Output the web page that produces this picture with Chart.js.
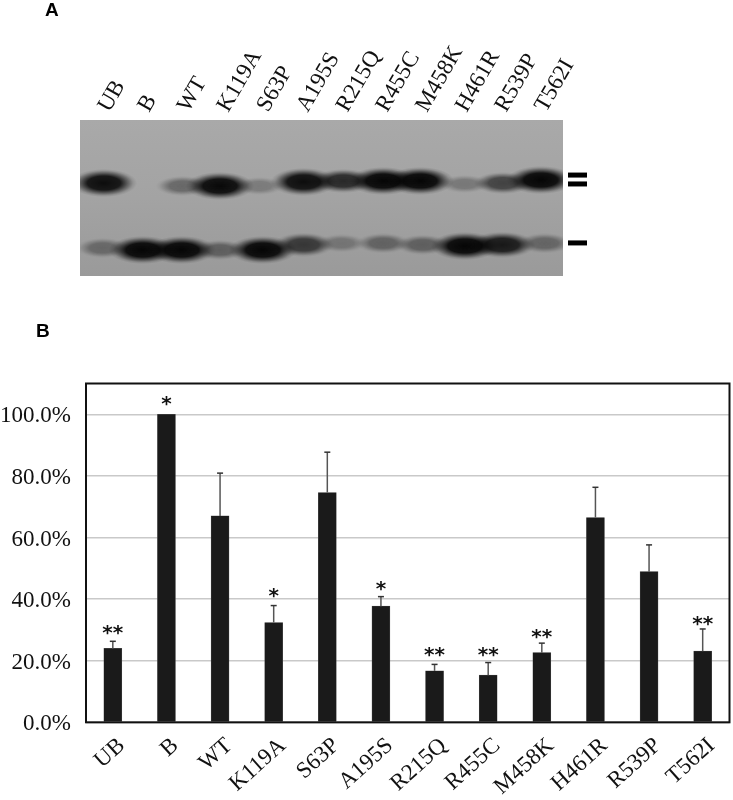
<!DOCTYPE html>
<html>
<head>
<meta charset="utf-8">
<title>Gel and bar chart</title>
<script src="https://cdn.jsdelivr.net/npm/chart.js@4"></script>
<style>
  body { margin: 0; background: #fff; }
  #wrap { position: relative; width: 733px; height: 800px; overflow: hidden; }
  canvas { position: absolute; left: 0; }
  .panel { position: absolute; font: bold 19px "Liberation Sans", Arial, sans-serif; color: #000; }
</style>
</head>
<body>
<div id="wrap">
  <canvas id="gelChart" width="733" height="300" style="top:0"></canvas>
  <canvas id="barChart" width="733" height="500" style="top:300px"></canvas>
  <div class="panel" style="left:45px;top:-1px">A</div>
  <div class="panel" style="left:36px;top:320px">B</div>
</div>
<script>
// Data
const lanes = ['UB', 'B', 'WT', 'K119A', 'S63P', 'A195S', 'R215Q', 'R455C', 'M458K', 'H461R', 'R539P', 'T562I'];
const values = [24, 100, 67, 32.4, 74.6, 37.7, 16.7, 15.3, 22.6, 66.5, 48.9, 23.1];
const errorTops = [26.3, 100, 80.9, 37.9, 87.7, 40.8, 18.8, 19.4, 25.7, 76.3, 57.6, 30.3];
const stars = ['**', '*', '', '*', '', '*', '**', '**', '**', '', '', '**'];
const starLevels = [30.2, 104.5, null, 42.2, null, 44.5, 23.1, 23.1, 29, null, null, 33.2];
const yTicks = [0, 20, 40, 60, 80, 100];

// Gel bands: lane position, migration (% of gel height), darkness 0-1
const upperX = [0, 1, 1.99, 2.92, 3.91, 5.03, 6.03, 7.03, 7.96, 9.09, 10.05, 11];
const upperY = [40.4, 40, 42.3, 42.3, 42.3, 39.7, 39.1, 39.1, 39.1, 41, 40.4, 38.5];
const upperDark = [0.95, 0, 0.38, 0.98, 0.26, 0.95, 0.78, 1, 1, 0.28, 0.62, 1];
const lowerX = [-0.03, 0.98, 1.96, 2.92, 4.0, 5.03, 5.98, 7.03, 8.03, 9.09, 10.03, 11.1];
const lowerY = [82, 83.3, 83.3, 83.3, 83.3, 80, 79, 79, 80, 80.8, 80, 79];
const lowerDark = [0.36, 1, 1, 0.42, 1, 0.68, 0.28, 0.4, 0.42, 1, 0.88, 0.38];
const markLevels = [35.3, 41, 78.8];

// soft elliptical band sprite used as the point style
function bandSprite(dark) {
  const rx = Math.round(22 + 12 * dark), ry = Math.round(7 + 7 * dark);
  const c = document.createElement('canvas');
  c.width = rx * 2;
  c.height = ry * 2;
  const g = c.getContext('2d');
  g.translate(rx, ry);
  g.scale(1, ry / rx);
  const grad = g.createRadialGradient(0, 0, 0, 0, 0, rx);
  grad.addColorStop(0, 'rgba(5,5,5,' + dark + ')');
  grad.addColorStop(0.5, 'rgba(5,5,5,' + dark * 0.92 + ')');
  grad.addColorStop(0.72, 'rgba(5,5,5,' + dark * 0.45 + ')');
  grad.addColorStop(0.88, 'rgba(5,5,5,' + dark * 0.12 + ')');
  grad.addColorStop(1, 'rgba(5,5,5,0)');
  g.fillStyle = grad;
  g.fillRect(-rx, -rx, rx * 2, rx * 2);
  return c;
}

function bandPoints(xs, ys) {
  return xs.map((x, i) => ({ x: x, y: ys[i] }));
}

const gelBackground = {
  id: 'gelBackground',
  beforeDatasetsDraw(chart) {
    const { ctx, chartArea: a } = chart;
    const grad = ctx.createLinearGradient(0, a.top, 0, a.bottom);
    grad.addColorStop(0, '#a9a9a9');
    grad.addColorStop(0.5, '#a3a3a3');
    grad.addColorStop(1, '#9a9a9a');
    ctx.fillStyle = grad;
    ctx.fillRect(a.left, a.top, a.right - a.left, a.bottom - a.top);
  },
  // the three dashes just right of the gel
  afterDatasetsDraw(chart) {
    const { ctx, chartArea: a, scales: { y } } = chart;
    ctx.fillStyle = '#000';
    markLevels.forEach(level => {
      ctx.fillRect(a.right + 5, y.getPixelForValue(level) - 2.5, 19, 5);
    });
  }
};

new Chart(document.getElementById('gelChart'), {
  type: 'scatter',
  data: {
    datasets: [
      {
        data: bandPoints(upperX, upperY),
        pointStyle: upperDark.map(bandSprite),
        pointRadius: 10
      },
      {
        data: bandPoints(lowerX, lowerY),
        pointStyle: lowerDark.map(bandSprite),
        pointRadius: 10
      }
    ]
  },
  options: {
    responsive: false,
    animation: false,
    devicePixelRatio: 1,
    layout: { padding: { left: 80, right: 170, bottom: 24 } },
    plugins: { legend: { display: false }, tooltip: { enabled: false } },
    scales: {
      x: {
        type: 'linear',
        position: 'top',
        min: -0.6,
        max: 11.56,
        afterBuildTicks: axis => { axis.ticks = lanes.map((_, i) => ({ value: i })); },
        afterFit: axis => { axis.height = 120; },
        grid: { display: false, drawTicks: false },
        border: { display: false },
        ticks: {
          autoSkip: false,
          minRotation: 60,
          maxRotation: 60,
          padding: 3,
          labelOffset: 24,
          color: '#111',
          font: { family: '"Liberation Serif", serif', size: 23 },
          callback: value => lanes[value]
        }
      },
      y: {
        display: false,
        reverse: true,
        min: 0,
        max: 100
      }
    }
  },
  plugins: [gelBackground]
});

// error bars, stars and the frame round the plot
const barExtras = {
  id: 'barExtras',
  afterDatasetsDraw(chart) {
    const { ctx, chartArea: a, scales: { x, y } } = chart;
    ctx.save();
    lanes.forEach((lane, i) => {
      const px = x.getPixelForValue(i);
      if (errorTops[i] > values[i]) {
        const top = y.getPixelForValue(errorTops[i]);
        ctx.strokeStyle = '#555';
        ctx.lineWidth = 1.5;
        ctx.beginPath();
        ctx.moveTo(px, y.getPixelForValue(values[i]));
        ctx.lineTo(px, top);
        ctx.stroke();
        ctx.strokeStyle = '#333';
        ctx.beginPath();
        ctx.moveTo(px - 3, top);
        ctx.lineTo(px + 3, top);
        ctx.stroke();
      }
      if (stars[i]) {
        ctx.fillStyle = '#111';
        ctx.font = 'bold 20px "DejaVu Sans", sans-serif';
        ctx.textAlign = 'center';
        ctx.textBaseline = 'alphabetic';
        ctx.fillText(stars[i], px, y.getPixelForValue(starLevels[i]) + 10);
      }
    });
    ctx.strokeStyle = '#111';
    ctx.lineWidth = 2;
    ctx.strokeRect(a.left, a.top, a.right - a.left, a.bottom - a.top);
    ctx.restore();
  }
};

new Chart(document.getElementById('barChart'), {
  type: 'bar',
  data: {
    labels: lanes,
    datasets: [{
      data: values,
      backgroundColor: '#1a1a1a',
      borderColor: '#555',
      borderWidth: 0.5,
      barThickness: 18
    }]
  },
  options: {
    responsive: false,
    animation: false,
    devicePixelRatio: 1,
    layout: { padding: { top: 83.5, right: 3.5 } },
    plugins: { legend: { display: false }, tooltip: { enabled: false } },
    scales: {
      x: {
        afterFit: axis => { axis.height = 77.7; },
        grid: { display: false },
        border: { display: false },
        ticks: {
          autoSkip: false,
          minRotation: 42,
          maxRotation: 42,
          padding: 2,
          labelOffset: 9,
          color: '#111',
          font: { family: '"Liberation Serif", serif', size: 23 }
        }
      },
      y: {
        min: 0,
        max: 110,
        afterBuildTicks: axis => { axis.ticks = yTicks.map(v => ({ value: v })); },
        afterFit: axis => { axis.width = 86; },
        grid: { color: '#c9c9c9', lineWidth: 1.5, drawTicks: false },
        border: { display: false },
        ticks: {
          padding: 15,
          labelOffset: 2,
          color: '#111',
          font: { family: '"Liberation Serif", serif', size: 23 },
          callback: value => value.toFixed(1) + '%'
        }
      }
    }
  },
  plugins: [barExtras]
});
</script>
</body>
</html>
